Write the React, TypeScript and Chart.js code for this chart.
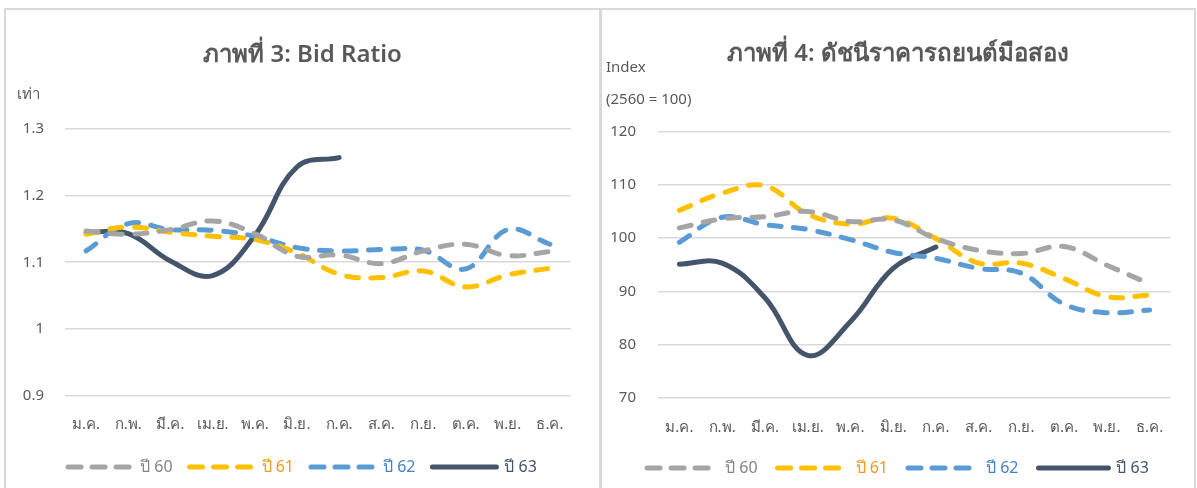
import React, { useEffect, useRef } from "react";
import { Chart, registerables } from "chart.js";

Chart.register(...registerables);

const months = ["ม.ค.", "ก.พ.", "มี.ค.", "เม.ย.", "พ.ค.", "มิ.ย.", "ก.ค.", "ส.ค.", "ก.ย.", "ต.ค.", "พ.ย.", "ธ.ค."];
const seriesNames = ["ปี 60", "ปี 61", "ปี 62", "ปี 63"];

// Chart 3: Bid Ratio
const bid60 = [1.147, 1.142, 1.149, 1.162, 1.143, 1.109, 1.111, 1.098, 1.117, 1.127, 1.11, 1.116];
const bid61 = [1.142, 1.153, 1.145, 1.139, 1.134, 1.114, 1.082, 1.077, 1.087, 1.063, 1.081, 1.091];
const bid62 = [1.117, 1.158, 1.149, 1.148, 1.139, 1.122, 1.117, 1.119, 1.118, 1.09, 1.149, 1.127];
const bid63 = [1.145, 1.143, 1.102, 1.08, 1.14, 1.243, 1.257];
const bidTicks = [0.9, 1.0, 1.1, 1.2, 1.3];

// Chart 4: used car price index
const idx60 = [101.9, 103.6, 104.0, 105.0, 103.1, 103.4, 99.9, 97.7, 97.1, 98.4, 94.9, 91.4];
const idx61 = [105.2, 108.4, 109.8, 104.5, 102.6, 103.7, 99.9, 95.3, 95.3, 92.4, 89.0, 89.3];
const idx62 = [99.2, 103.9, 102.5, 101.6, 99.7, 97.3, 96.2, 94.3, 93.4, 87.6, 86.0, 86.5];
const idx63 = [95.1, 95.3, 88.8, 78.0, 84.3, 94.3, 98.3];
const idxTicks = [70, 80, 90, 100, 110, 120];

const lineColors = ["#A5A5A5", "#FFC000", "#5B9BD5", "#44546A"];
const textColors = ["#858585", "#F39A1A", "#3F83C6", "#44546A"];

const FONT = "'Noto Sans', Tahoma, sans-serif";
const DASH = [12, 12.5];

type Cfg = {
  title: string;
  data: number[][];
  ticks: number[];
  axisWidth: number;
  rightWidth: number;
  tickPad: number;
  padBottom: number;
  titleTop: number;
  titleBottom: number;
  xHeight: number;
  xPad: number;
  legendBox: number;
  legendPad: number;
  units: { text: string; x: number; y: number }[];
  fmt: (v: number) => string;
};

function ChartPanel({ cfg, width, height }: { cfg: Cfg; width: number; height: number }) {
  const ref = useRef<HTMLCanvasElement | null>(null);
  useEffect(() => {
    if (!ref.current) return;
    const unitPlugin = {
      id: "units",
      afterDraw(chart: any) {
        const ctx = chart.ctx;
        ctx.save();
        ctx.font = `15px ${FONT}`;
        ctx.fillStyle = "#595959";
        ctx.textAlign = "left";
        ctx.textBaseline = "middle";
        cfg.units.forEach((u) => ctx.fillText(u.text, u.x, u.y));
        ctx.restore();
      },
    };
    const chart = new Chart(ref.current, {
      type: "line",
      data: {
        labels: months,
        datasets: cfg.data.map((d, i) => ({
          label: seriesNames[i],
          data: d,
          yAxisID: "y",
          borderColor: lineColors[i],
          backgroundColor: lineColors[i],
          borderWidth: 5,
          borderDash: i < 3 ? DASH : [],
          borderCapStyle: "round" as const,
          borderJoinStyle: "round" as const,
          tension: 0.4,
          pointRadius: 0,
          pointHoverRadius: 0,
          fill: false,
        })),
      },
      options: {
        animation: false,
        responsive: false,
        layout: { padding: { left: 0, right: 0, top: 0, bottom: cfg.padBottom } },
        plugins: {
          tooltip: { enabled: false },
          title: {
            display: true,
            text: cfg.title,
            color: "#595959",
            font: { family: FONT, size: 24, weight: "600" as any, lineHeight: 1.2 },
            padding: { top: cfg.titleTop, bottom: cfg.titleBottom },
          },
          legend: {
            position: "bottom",
            labels: {
              usePointStyle: true,
              pointStyleWidth: cfg.legendBox,
              padding: cfg.legendPad,
              font: { family: FONT, size: 16 },
              generateLabels: (chart: any) =>
                chart.data.datasets.map((ds: any, i: number) => ({
                  text: ds.label,
                  fillStyle: lineColors[i],
                  strokeStyle: lineColors[i],
                  lineWidth: 5,
                  lineDash: i < 3 ? [13, 11] : [],
                  lineCap: "round",
                  pointStyle: "line",
                  fontColor: textColors[i],
                  hidden: false,
                  datasetIndex: i,
                })),
            },
          },
        },
        scales: {
          x: {
            offset: true,
            grid: { display: false, drawTicks: false, offset: true },
            border: { display: false },
            ticks: { color: "#595959", font: { family: FONT, size: 15 }, padding: cfg.xPad, maxRotation: 0, autoSkip: false },
            afterFit: (s: any) => {
              s.height = cfg.xHeight;
            },
          },
          y: {
            position: "left",
            min: cfg.ticks[0],
            max: cfg.ticks[cfg.ticks.length - 1],
            afterBuildTicks: (s: any) => {
              s.ticks = cfg.ticks.map((v) => ({ value: v }));
            },
            grid: { color: "#D9D9D9", lineWidth: 1.5, drawTicks: false },
            border: { display: false },
            ticks: {
              color: "#595959",
              font: { family: FONT, size: 15 },
              padding: cfg.tickPad,
              callback: (v: any) => cfg.fmt(Number(v)),
            },
            afterFit: (s: any) => {
              s.width = cfg.axisWidth;
            },
          },
          yR: {
            position: "right",
            display: true,
            min: 0,
            max: 1,
            grid: { display: false, drawTicks: false },
            border: { display: false },
            ticks: { display: false },
            afterFit: (s: any) => {
              s.width = cfg.rightWidth;
            },
          },
        },
      },
      plugins: [unitPlugin],
    });
    return () => chart.destroy();
  }, []);
  return <canvas ref={ref} width={width} height={height} style={{ display: "block", width, height }} />;
}

const leftCfg: Cfg = {
  title: "ภาพที่ 3: Bid Ratio",
  data: [bid60, bid61, bid62, bid63],
  ticks: bidTicks,
  axisWidth: 59,
  rightWidth: 28,
  tickPad: 21,
  padBottom: 3,
  titleTop: 30.6,
  titleBottom: 59.6,
  xHeight: 46.5,
  xPad: 20,
  legendBox: 64,
  legendPad: 17,
  units: [{ text: "เท่า", x: 11, y: 85 }],
  fmt: (v) => String(Number(v.toFixed(1))),
};

const rightCfg: Cfg = {
  title: "ภาพที่ 4: ดัชนีราคารถยนต์มือสอง",
  data: [idx60, idx61, idx62, idx63],
  ticks: idxTicks,
  axisWidth: 56,
  rightWidth: 23,
  tickPad: 22,
  padBottom: 2,
  titleTop: 29.6,
  titleBottom: 63,
  xHeight: 42,
  xPad: 21,
  legendBox: 70,
  legendPad: 20,
  units: [
    { text: "Index", x: 4, y: 58 },
    { text: "(2560 = 100)", x: 4, y: 90 },
  ],
  fmt: (v) => String(Math.round(v)),
};

export default function App() {
  return (
    <div style={{ position: "absolute", left: 0, top: 0, width: 1197, height: 488, overflow: "hidden", background: "#fff" }}>
      <div style={{ position: "absolute", left: 4, top: 8, width: 593, height: 490, border: "2px solid #D9D9D9", background: "#fff" }}>
        <ChartPanel cfg={leftCfg} width={593} height={478} />
      </div>
      <div style={{ position: "absolute", left: 600, top: 8, width: 592, height: 490, border: "2px solid #D9D9D9", background: "#fff" }}>
        <ChartPanel cfg={rightCfg} width={592} height={478} />
      </div>
    </div>
  );
}
